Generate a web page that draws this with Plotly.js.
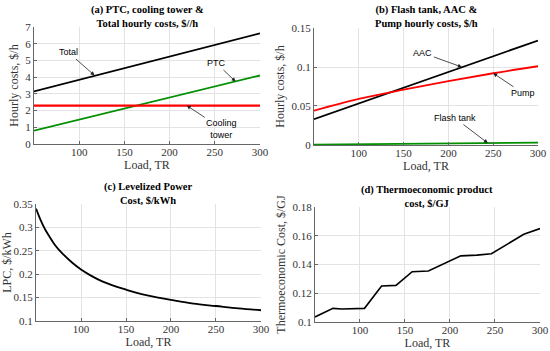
<!DOCTYPE html>
<html><head><meta charset="utf-8">
<script src="https://cdn.plot.ly/plotly-3.0.1.min.js"></script>
<style>html,body{margin:0;padding:0;background:#fff}#chart{width:550px;height:351px}</style>
</head><body><div id="chart"></div>
<script>
// (a)
const loadA = [50, 300];
const totalA = [3.15, 6.62];
const ptcA = [0.80, 4.10];
const coolingA = [2.30, 2.30];
// (b)
const loadB = [50, 100, 150, 200, 250, 300];
const aacB = [0.033, 0.053, 0.073, 0.094, 0.114, 0.134];
const pumpB = [0.044, 0.059, 0.071, 0.082, 0.092, 0.101];
const flashB = [0.0005, 0.001, 0.0015, 0.002, 0.0025, 0.003];
// (c)
const loadC = [50,55,60,65,70,75,80,90,100,110,120,130,140,150,160,175,200,225,250,275,300];
const lpcC = [0.340,0.316,0.296,0.280,0.265,0.253,0.243,0.225,0.210,0.198,0.188,0.180,0.173,0.167,0.161,0.154,0.145,0.137,0.132,0.127,0.123];
// (d)
const loadD = [50,70,80,95,105,124,140,158,176,212,230,246,282,300];
const thermoD = [0.1035,0.1095,0.109,0.109,0.1095,0.125,0.1255,0.135,0.1355,0.146,0.1465,0.1475,0.161,0.165];

const serif = "Liberation Serif, Times New Roman, serif";
const sans = "Liberation Sans, Arial, sans-serif";

const traces = [
  {x: loadA, y: totalA, xaxis:'x', yaxis:'y', mode:'lines', line:{color:'#000', width:1.8}},
  {x: loadA, y: ptcA, xaxis:'x', yaxis:'y', mode:'lines', line:{color:'#009000', width:1.8}},
  {x: loadA, y: coolingA, xaxis:'x', yaxis:'y', mode:'lines', line:{color:'#ff0000', width:2.2}},
  {x: loadB, y: aacB, xaxis:'x2', yaxis:'y2', mode:'lines', line:{color:'#000', width:1.8}},
  {x: loadB, y: pumpB, xaxis:'x2', yaxis:'y2', mode:'lines', line:{color:'#ff0000', width:1.8, shape:'spline'}},
  {x: loadB, y: flashB, xaxis:'x2', yaxis:'y2', mode:'lines', line:{color:'#009000', width:1.8}},
  {x: loadC, y: lpcC, xaxis:'x3', yaxis:'y3', mode:'lines', line:{color:'#000', width:1.8, shape:'spline'}},
  {x: loadD, y: thermoD, xaxis:'x4', yaxis:'y4', mode:'lines', line:{color:'#000', width:1.6}}
];

function xa(dom, anchor){
  return {domain: dom, anchor: anchor, range:[50,300], tickvals:[100,150,200,250,300],
    showgrid:true, gridcolor:'#e3e3e3', zeroline:false, showline:true, linecolor:'#666', linewidth:1,
    ticks:'inside', ticklen:3, tickcolor:'#666', ticklabelstandoff:-2, tickfont:{family:serif, size:11, color:'#333'},
    title:{text:'Load, TR', font:{family:serif, size:12, color:'#333'}, standoff:0}};
}
function ya(dom, anchor, range, tickvals, ticktext, title){
  return {domain: dom, anchor: anchor, range: range, tickvals: tickvals, ticktext: ticktext,
    showgrid:true, gridcolor:'#e3e3e3', zeroline:false, showline:true, linecolor:'#666', linewidth:1,
    ticks:'inside', ticklen:3, tickcolor:'#666', tickfont:{family:serif, size:11, color:'#333'},
    title:{text:title, font:{family:serif, size:12, color:'#333'}, standoff:4}};
}
function ttl(x, ytop, l1, l2){
  return {xref:'paper', yref:'paper', x:x/550, y:1-ytop/351, xanchor:'center', yanchor:'top',
    text:'<b>'+l1+'</b><br><b>'+l2+'</b>', showarrow:false, align:'center',
    font:{family:serif, size:10.5, color:'#000'}};
}
function lab(xr, yr, x, y, text, ax, ay){
  return {xref:xr, yref:yr, x:x, y:y, text:text, ax:ax, ay:ay, showarrow:true, arrowhead:2,
    arrowsize:1, arrowwidth:0.8, arrowcolor:'#222', font:{family:sans, size:9, color:'#000'}};
}

const layout = {
  width:550, height:351, margin:{l:0,r:0,t:0,b:0}, showlegend:false,
  paper_bgcolor:'#fff', plot_bgcolor:'#fff',
  xaxis: xa([0.0618,0.4727],'y'),
  yaxis: ya([0.5897,0.9231],'x',[0,7],[0,1,2,3,4,5,6,7],['0','1','2','3','4','5','6','7'],'Hourly costs, $/h'),
  xaxis2: xa([0.5709,0.9782],'y2'),
  yaxis2: ya([0.5869,0.9202],'x2',[0,0.15],[0,0.05,0.1,0.15],['0','0.05','0.1','0.15'],'Hourly costs, $/h'),
  xaxis3: xa([0.0655,0.4745],'y3'),
  yaxis3: ya([0.0855,0.4188],'x3',[0.1,0.35],[0.1,0.15,0.2,0.25,0.3,0.35],['0.1','0.15','0.2','0.25','0.3','0.35'],'LPC, $/kWh'),
  xaxis4: xa([0.5727,0.9818],'y4'),
  yaxis4: ya([0.0826,0.4103],'x4',[0.1,0.18],[0.1,0.12,0.14,0.16,0.18],['0.1','0.12','0.14','0.16','0.18'],'Thermoeconomic Cost, $/GJ'),
  annotations: [
    ttl(147, 2, '(a) PTC, cooling tower &', 'Total hourly costs, $//h'),
    ttl(426, 2, '(b) Flash tank, AAC &', 'Pump hourly costs, $/h'),
    ttl(148, 179, '(c) Levelized Power', 'Cost, $/kWh'),
    ttl(427, 182, '(d) Thermoeconomic product', 'cost, $/GJ'),
    lab('x','y', 117, 4.1, 'Total', -26, -23),
    lab('x','y', 273, 3.74, 'PTC', -19, -18),
    lab('x','y', 219, 2.3, 'Cooling<br>tower', 35, 23),
    lab('x2','y2', 215, 0.1, 'AAC', -39, -14),
    lab('x2','y2', 250, 0.092, 'Pump', 30, 20),
    lab('x2','y2', 244, 0.0025, 'Flash tank', -33, -25)
  ]
};
Plotly.newPlot('chart', traces, layout, {staticPlot:true, displayModeBar:false});
</script></body></html>
